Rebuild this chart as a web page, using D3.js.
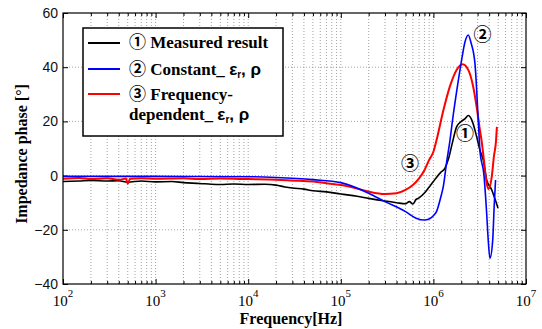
<!DOCTYPE html>
<html>
<head>
<meta charset="utf-8">
<script src="https://cdn.jsdelivr.net/npm/d3@7"></script>
<style>
	body { margin: 0; background: #fff; }
	svg { display: block; }
	.grid line { stroke: #8a8a8a; stroke-width: 0.8; stroke-dasharray: 1,2; }
	.axis path { display: none; }
	.axis line { stroke: #000; }
	.yAxis text { font-family: "Liberation Sans", Arial, sans-serif; font-size: 14px; fill: #111; }
	.curve { fill: none; stroke-linejoin: round; }
	.lbl { font-family: "Liberation Serif", "Times New Roman", serif; font-weight: bold; }
	.circ { font-family: "Noto Sans CJK JP", "DejaVu Sans", sans-serif; font-weight: bold; }
	.greek { font-family: "Liberation Sans", Arial, sans-serif; font-weight: bold; }
</style>
</head>
<body>
<div id="chart"></div>
<script>
// frequency [Hz] and phase [deg]
var measuredFreq = [ 1e2, 1.5e2, 2e2, 3e2, 4e2, 5e2, 7e2, 1e3, 1.5e3, 2e3, 3e3, 4e3, 5e3, 7e3, 1e4, 1.5e4, 2e4, 2.5e4, 3e4, 4e4, 5e4, 7e4, 1e5, 1.5e5, 2e5, 3e5, 4e5, 5e5, 5.5e5, 6e5, 6.5e5, 7e5, 8e5, 9e5, 1e6, 1.1e6, 1.2e6, 1.33e6, 1.45e6, 1.6e6, 1.78e6, 2.0e6, 2.2e6, 2.38e6, 2.6e6, 2.93e6, 3.18e6, 3.45e6, 3.76e6, 4.27e6, 4.6e6, 4.98e6 ];
var measured = [ -2.2, -2.0, -1.8, -2.0, -1.9, -2.4, -2.0, -2.3, -2.2, -2.6, -2.9, -3.2, -3.3, -3.1, -3.3, -3.2, -3.5, -4.2, -4.6, -5.0, -5.6, -6.0, -6.8, -7.6, -8.4, -9.4, -10.0, -10.4, -9.6, -10.5, -8.8, -8.2, -6.4, -4.2, -2.2, -0.3, 1.2, 2.7, 6, 12, 18, 20, 21, 22.2, 20.5, 14.4, 9.4, 5.8, -1.6, -5.3, -8.4, -12 ];

var constantFreq = [ 1e2, 1e3, 1e4, 2e4, 5e4, 1e5, 2e5, 3e5, 5e5, 6.5e5, 8e5, 9e5, 1.0e6, 1.08e6, 1.2e6, 1.28e6, 1.39e6, 1.51e6, 1.61e6, 1.8e6, 1.99e6, 2.2e6, 2.38e6, 2.55e6, 2.81e6, 3.05e6, 3.18e6, 3.52e6, 3.76e6, 3.91e6, 4.08e6, 4.37e6, 4.53e6, 4.69e6 ];
var constant = [ -0.3, -0.3, -0.4, -0.7, -1.5, -2.6, -6.5, -9.6, -13.3, -15.7, -16.4, -16, -14.8, -13.3, -8, -4, 5, 13, 20.5, 32, 41.4, 49.5, 51.9, 49, 41.4, 20.5, 9.4, 0, -13.9, -23.8, -30.5, -23.8, -11.5, -1.6 ];

var freqDepFreq = [ 1e2, 1.5e2, 2e2, 3e2, 4e2, 4.8e2, 5e2, 5.3e2, 7e2, 1e3, 2e3, 3e3, 5e3, 1e4, 2e4, 3e4, 5e4, 7e4, 1e5, 1.5e5, 2e5, 3e5, 4e5, 5e5, 6e5, 7e5, 8e5, 9e5, 1e6, 1.08e6, 1.28e6, 1.51e6, 1.78e6, 2.07e6, 2.38e6, 2.69e6, 2.93e6, 3.18e6, 3.31e6, 3.51e6, 3.76e6, 3.92e6, 4.27e6, 4.5e6, 4.75e6, 4.85e6 ];
var freqDep = [ -1.2, -0.9, -1.3, -1.0, -1.5, -1.1, -3.0, -1.2, -1.0, -1.2, -1.0, -1.3, -1.1, -1.3, -1.5, -1.8, -2.2, -2.8, -3.5, -4.8, -5.9, -6.8, -6.5, -5.3, -3.5, -1.0, 2.0, 5.8, 8.8, 13, 24, 33, 39, 41.1, 39, 32.8, 25.4, 16.8, 13, 5.8, -2.8, -5, -0.4, 7, 13, 18 ];

var xMajor = [ 1e2, 1e3, 1e4, 1e5, 1e6, 1e7 ];
var yTicks = [ -40, -20, 0, 20, 40, 60 ];

var svg = d3.select("#chart")
	.append("svg")
	.attr("width", "542")
	.attr("height", "329")
;

var margin = {top: 13, right: 16, bottom: 45, left: 63};
var width = +svg.attr("width") - margin.left - margin.right;
var height = +svg.attr("height") - margin.top - margin.bottom;

var x = d3.scaleLog().domain([1e2, 1e7]).range([0, width]);
var y = d3.scaleLinear().domain([-40, 60]).range([height, 0]);

var g = svg.append("g")
	.attr("transform", "translate(" + margin.left + "," + margin.top + ")");

// dotted grid
var xAll = x.ticks().filter((d) => d > 1e2 && d < 1e7);
var grid = g.append("g").attr("class", "grid");
grid.selectAll(".vg").data(xAll).enter().append("line")
	.attr("class", "vg")
	.attr("x1", (d) => x(d)).attr("x2", (d) => x(d))
	.attr("y1", 0).attr("y2", height)
;
grid.selectAll(".hg").data(yTicks.slice(1, -1)).enter().append("line")
	.attr("class", "hg")
	.attr("x1", 0).attr("x2", width)
	.attr("y1", (d) => y(d)).attr("y2", (d) => y(d))
;

// inside ticks on all four sides
var xMinor = xAll.filter((d) => xMajor.indexOf(d) < 0);
g.append("g")
	.attr("class", "axis")
	.attr("transform", "translate(0," + height + ")")
	.call(d3.axisBottom(x).tickValues(xMinor).tickSize(-3).tickFormat(""))
;
g.append("g")
	.attr("class", "axis")
	.attr("transform", "translate(0," + height + ")")
	.call(d3.axisBottom(x).tickValues(xMajor).tickSize(-5).tickFormat(""))
;
g.append("g")
	.attr("class", "axis")
	.call(d3.axisTop(x).tickValues(xMinor).tickSize(-3).tickFormat(""))
;
g.append("g")
	.attr("class", "axis")
	.call(d3.axisTop(x).tickValues(xMajor).tickSize(-5).tickFormat(""))
;
g.append("g")
	.attr("class", "axis yAxis")
	.call(d3.axisLeft(y).tickValues(yTicks).tickSize(-5).tickPadding(5))
;
g.append("g")
	.attr("class", "axis")
	.attr("transform", "translate(" + width + ",0)")
	.call(d3.axisRight(y).tickValues(yTicks).tickSize(-5).tickFormat(""))
;

// 10^n labels
var xl = g.selectAll(".xlab").data(xMajor).enter().append("text")
	.attr("class", "xlab")
	.attr("x", (d) => x(d))
	.attr("y", height + 22)
	.attr("text-anchor", "middle")
	.style("font-family", "'Liberation Serif', serif")
	.style("font-size", "15px")
;
xl.append("tspan").text("10");
xl.append("tspan")
	.attr("dy", -9)
	.style("font-size", "11px")
	.text((d) => Math.round(Math.log10(d)))
;

// curves
var line = d3.line()
	.x((d) => x(d[0]))
	.y((d) => y(d[1]))
	.curve(d3.curveMonotoneX)
;
var series = [
	{ f: measuredFreq, v: measured, color: "#000000", w: 1.6 },
	{ f: freqDepFreq, v: freqDep, color: "#ff0000", w: 2 },
	{ f: constantFreq, v: constant, color: "#0000ff", w: 1.6 }
];
g.selectAll(".curve").data(series).enter().append("path")
	.attr("class", "curve")
	.attr("stroke", (d) => d.color)
	.attr("stroke-width", (d) => d.w)
	.attr("d", (d) => line(d.f.map((f, i) => [f, d.v[i]])))
;

// frame
g.append("rect")
	.attr("width", width)
	.attr("height", height)
	.attr("fill", "none")
	.attr("stroke", "#000")
	.attr("stroke-width", 1.2)
;

// circled annotations
var notes = [ { t: "\u2460", f: 2.2e6, v: 16 }, { t: "\u2461", f: 3.4e6, v: 52.5 }, { t: "\u2462", f: 5.6e5, v: 5 } ];
g.selectAll(".note").data(notes).enter().append("text")
	.attr("class", "note circ")
	.attr("x", (d) => x(d.f))
	.attr("y", (d) => y(d.v))
	.attr("text-anchor", "middle")
	.attr("dominant-baseline", "central")
	.style("font-size", "18px")
	.text((d) => d.t)
;

// legend
var leg = svg.append("g");
leg.append("rect")
	.attr("x", 83).attr("y", 28)
	.attr("width", 200).attr("height", 108)
	.attr("fill", "#fff")
	.attr("stroke", "#000")
	.attr("stroke-width", 1.5)
;
var legRows = [ { c: "#000", y: 43 }, { c: "#0000ff", y: 69 }, { c: "#ff0000", y: 94 } ];
leg.selectAll(".ll").data(legRows).enter().append("line")
	.attr("x1", 88).attr("x2", 120)
	.attr("y1", (d) => d.y).attr("y2", (d) => d.y)
	.attr("stroke", (d) => d.c)
	.attr("stroke-width", 2)
;

function legText(yy, parts) {
	var t = leg.append("text")
		.attr("class", "lbl")
		.attr("x", 129)
		.attr("y", yy)
		.style("font-size", "17px")
	;
	parts.forEach(function(p) {
		var s = t.append("tspan").text(p[0]);
		if(p[1]) s.attr("class", p[1]);
		if(p[2]) s.attr("dy", p[2]);
		if(p[3]) s.style("font-size", p[3]);
	});
}
legText(48, [ ["\u2460", "circ"], [" Measured result"] ]);
legText(75, [ ["\u2461", "circ"], [" Constant_ "], ["\u03b5", "greek"], ["r", "greek", 3, "10px"], [", \u03c1", "greek", -3] ]);
legText(100, [ ["\u2462", "circ"], [" Frequency-"] ]);
legText(120, [ ["dependent_ "], ["\u03b5", "greek"], ["r", "greek", 3, "10px"], [", \u03c1", "greek", -3] ]);

// axis titles
svg.append("text")
	.attr("class", "lbl")
	.attr("transform", "translate(27,154)rotate(-90)")
	.attr("text-anchor", "middle")
	.style("font-size", "16px")
	.text("Impedance phase [\u00b0]")
;
svg.append("text")
	.attr("class", "lbl")
	.attr("x", 291)
	.attr("y", 324)
	.attr("text-anchor", "middle")
	.style("font-size", "16px")
	.text("Frequency[Hz]")
;
</script>
</body>
</html>
